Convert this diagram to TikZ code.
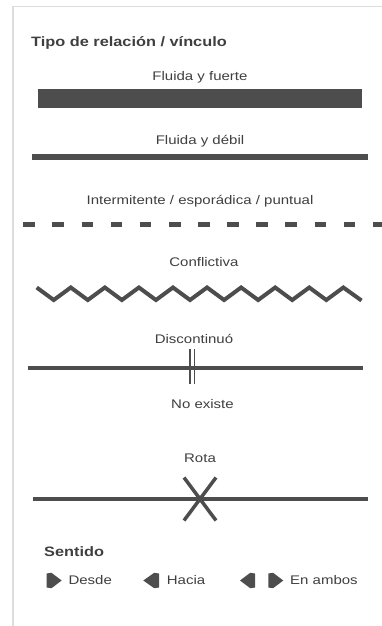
\documentclass[tikz,border=0pt]{standalone}
\usepackage{fontspec}
\setmainfont{Liberation Sans}
\newfontfamily\labfont[FakeStretch=1.2]{Liberation Sans}
\definecolor{txtcol}{HTML}{3F3F3F}
\definecolor{linecol}{HTML}{4D4D4D}
\definecolor{framecol}{HTML}{DDDDDD}
\begin{document}
\begin{tikzpicture}[x=1pt,y=-1pt,
  lbl/.style={inner sep=0pt, anchor=base, text=txtcol, font=\labfont\fontsize{12.5}{14}\selectfont},
  lblleft/.style={lbl, anchor=base west},
  head/.style={inner sep=0pt, anchor=base west, text=txtcol, font=\labfont\bfseries\fontsize{13.6}{16}\selectfont},
  relline/.style={draw=linecol, line width=4pt},
  marker/.style={fill=linecol, draw=none}]
\useasboundingbox (0,0) rectangle (382,626);
% frame
\draw[framecol, line width=1.2pt] (13,626) -- (13,6.5) -- (382,6.5);
% title
\node[head] (title) at (31,46.7) {Tipo de relación / vínculo};
% fluida y fuerte
\node[lbl] (fuerte) at (200,80) {Fluida y fuerte};
\fill[linecol] (38.3,89.3) rectangle (361.7,108.3);
% fluida y debil
\node[lbl] (debil) at (200,144.3) {Fluida y débil};
\draw[linecol, line width=5.5pt] (31.7,157) -- (368.3,157);
% intermitente
\node[lbl] (interm) at (200,204.3) {Intermitente / esporádica / puntual};
\draw[linecol, line width=5pt, dash pattern=on 11.7pt off 17.42pt] (23.3,224.5) -- (390,224.5);
% conflictiva
\node[lbl] (confl) at (204,266.7) {Conflictiva};
\draw[linecol, line width=4pt, line join=miter]
  (36.7,287.5)
  \foreach \k in {0,...,8} { -- ({36.7+17.035+34.07*\k},300) -- ({36.7+34.07*(\k+1)},287.5) }
  -- (361.5,300.5);
% discontinuo
\node[lbl] (disc) at (194,343.3) {Discontinuó};
\draw[relline] (28.3,368) -- (363.3,368);
\draw[linecol, line width=1.8pt] (190,349) -- (190,384);
\draw[linecol, line width=1.8pt] (194.5,349) -- (194.5,384);
% no existe
\node[lbl] (noex) at (202.5,408.3) {No existe};
% rota
\node[lbl] (rota) at (200,462.7) {Rota};
\draw[relline] (32.7,499) -- (367.7,499);
\draw[linecol, line width=3.5pt] (184,477.5) -- (216,520.5);
\draw[linecol, line width=3.5pt] (216,477.5) -- (184,520.5);
% sentido
\node[head] (sentido) at (44,556) {Sentido};
% markers
\fill[marker] (46.7,573.5) -- (51.5,572.8) -- (61.7,580.5) -- (51.5,588.2) -- (46.7,587.5) -- cycle;
\node[lblleft] (desde) at (68.3,584.5) {Desde};
\fill[marker] (159,573.5) -- (154.2,572.8) -- (143.3,580.5) -- (154.2,588.2) -- (159,587.5) -- cycle;
\node[lblleft] (hacia) at (166.7,584.5) {Hacia};
\fill[marker] (255,573.5) -- (250.2,572.8) -- (240,580.5) -- (250.2,588.2) -- (255,587.5) -- cycle;
\fill[marker] (268.3,573.5) -- (273.1,572.8) -- (283.3,580.5) -- (273.1,588.2) -- (268.3,587.5) -- cycle;
\node[lblleft] (ambos) at (290,584.5) {En ambos};
\end{tikzpicture}
\end{document}
